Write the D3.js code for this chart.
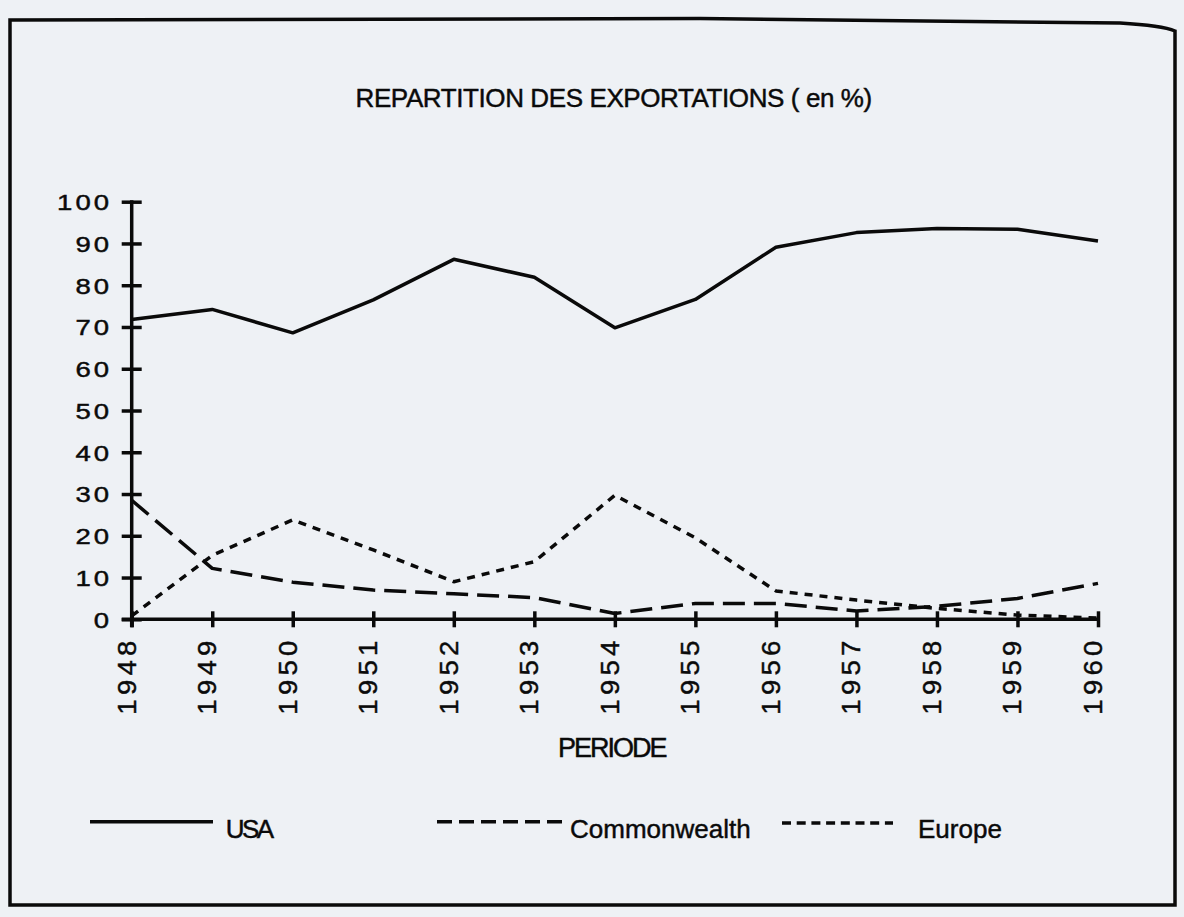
<!DOCTYPE html>
<html lang="fr">
<head>
<meta charset="UTF-8">
<title>Répartition des exportations</title>
<script src="https://cdn.jsdelivr.net/npm/d3@7"></script>
<style>
  html, body { margin: 0; padding: 0; background: #eef1f5; }
  svg { display: block; }
  text { font-family: "Liberation Sans", Arial, sans-serif; fill: #0a0a0a; stroke: #0a0a0a; stroke-width: 0.45px; }
</style>
</head>
<body>
<div id="chart"></div>
<script>
// values (percent of exports)
const years = [1948, 1949, 1950, 1951, 1952, 1953, 1954, 1955, 1956, 1957, 1958, 1959, 1960];
const usa = [71.8, 74.2, 68.6, 76.5, 86.2, 81.9, 69.8, 76.6, 89.1, 92.6, 93.6, 93.4, 90.6];
const commonwealth = [28.5, 12.2, 8.9, 7, 6.1, 5.2, 1.4, 3.8, 3.8, 2, 3.1, 5, 8.6];
const europe = [0.8, 15.3, 23.8, 16.6, 9, 13.8, 29.7, 19.5, 6.8, 4.6, 2.6, 1, 0.3];
const yTicks = [0, 10, 20, 30, 40, 50, 60, 70, 80, 90, 100];
const seriesNames = ["USA", "Commonwealth", "Europe"];

const title = "REPARTITION DES EXPORTATIONS ( en %)";
const xTitle = "PERIODE";

const W = 1184, H = 917;
const ink = "#0a0a0a";

const svg = d3.select("#chart").append("svg")
  .attr("width", W)
  .attr("height", H);

// page frame
svg.append("path")
  .attr("d", "M10,905 V20 L700,18.5 L1120,23 Q1162,25.5 1175,31 V905 Z")
  .attr("fill", "none")
  .attr("stroke", ink)
  .attr("stroke-width", 3.5);

const x = d3.scaleLinear().domain([1948, 1960]).range([131.7, 1098]);
const y = d3.scaleLinear().domain([0, 100]).range([619.3, 201.7]);

svg.append("text")
  .attr("x", 613.7)
  .attr("y", 106.7)
  .attr("text-anchor", "middle")
  .attr("font-size", 26)
  .attr("letter-spacing", -0.4)
  .text(title);

// y axis
const yAxis = d3.axisLeft(y).tickValues(yTicks).tickSize(10).tickPadding(11);
const gy = svg.append("g")
  .attr("transform", `translate(${x(1948)},0)`)
  .call(yAxis);
gy.select(".domain").remove();
gy.selectAll(".tick line")
  .attr("x1", 10)
  .attr("stroke", ink)
  .attr("stroke-width", 3.5);
gy.selectAll(".tick text")
  .attr("font-family", null)
  .attr("fill", null)
  .attr("font-size", 22)
  .attr("letter-spacing", 2.4)
  .attr("transform", "scale(1.25,1)")
  .attr("x", -15.8)
  .attr("dy", "0.36em");
gy.append("line")
  .attr("x1", 0).attr("x2", 0)
  .attr("y1", y(100) - 1.5)
  .attr("y2", y(0) + 8)
  .attr("stroke", ink)
  .attr("stroke-width", 3.5);

// x axis
const xAxis = d3.axisBottom(x).tickValues(years).tickSize(8).tickFormat(d3.format("d"));
const gx = svg.append("g")
  .attr("transform", `translate(0,${y(0)})`)
  .call(xAxis);
gx.select(".domain").remove();
gx.append("line")
  .attr("x1", x(1948) - 10)
  .attr("x2", x(1960) + 1.5)
  .attr("stroke", ink)
  .attr("stroke-width", 3.5);
gx.selectAll(".tick line")
  .attr("y1", -8)
  .attr("stroke", ink)
  .attr("stroke-width", 3.5);
gx.selectAll(".tick text")
  .attr("font-family", null)
  .attr("fill", null)
  .attr("font-size", 25)
  .attr("letter-spacing", 3.9)
  .attr("text-anchor", "end")
  .attr("transform", "rotate(-90) scale(1.1,1)")
  .attr("x", -15.5)
  .attr("y", 3.5)
  .attr("dy", 0);

svg.append("text")
  .attr("x", 558)
  .attr("y", 757)
  .attr("font-size", 27)
  .attr("letter-spacing", -2)
  .text(xTitle);

// series
const series = [
  { name: seriesNames[0], values: usa, dash: null, legendDash: null },
  { name: seriesNames[1], values: commonwealth, dash: "22,9", legendDash: "15,7" },
  { name: seriesNames[2], values: europe, dash: "8,7", legendDash: "9,5.7" }
];

const line = d3.line()
  .x((d, i) => x(years[i]))
  .y(d => y(d));

svg.append("g")
  .selectAll("path")
  .data(series)
  .join("path")
  .attr("d", d => line(d.values))
  .attr("fill", "none")
  .attr("stroke", ink)
  .attr("stroke-width", 3.5)
  .attr("stroke-linejoin", "round")
  .attr("stroke-dasharray", d => d.dash);

// legend
const legendPos = [
  { x1: 90, x2: 213, ly: 821.7, tx: 225.7, ls: -2.5 },
  { x1: 437, x2: 562, ly: 821.7, tx: 570, ls: 0 },
  { x1: 782, x2: 893, ly: 823, tx: 918, ls: 0 }
];
const lg = svg.append("g")
  .selectAll("g")
  .data(series)
  .join("g");
lg.append("line")
  .attr("x1", (d, i) => legendPos[i].x1)
  .attr("x2", (d, i) => legendPos[i].x2)
  .attr("y1", (d, i) => legendPos[i].ly)
  .attr("y2", (d, i) => legendPos[i].ly)
  .attr("stroke", ink)
  .attr("stroke-width", 3.5)
  .attr("stroke-dasharray", d => d.legendDash);
lg.append("text")
  .attr("x", (d, i) => legendPos[i].tx)
  .attr("y", 838)
  .attr("font-size", 26)
  .attr("letter-spacing", (d, i) => legendPos[i].ls)
  .text(d => d.name);
</script>
</body>
</html>
